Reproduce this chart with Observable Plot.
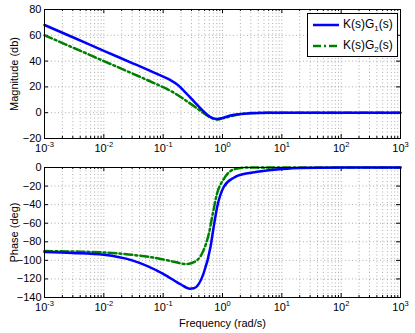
<!DOCTYPE html>
<html><head><meta charset="utf-8">
<script src="https://cdn.jsdelivr.net/npm/d3@7"></script>
<script src="https://cdn.jsdelivr.net/npm/@observablehq/plot@0.6"></script>
<style>
body{margin:0;background:#fff;font-family:"Liberation Sans",Arial,sans-serif;}
#wrap{position:relative;width:415px;height:333px;overflow:hidden;}
#wrap svg{display:block;}
#legend{position:absolute;left:307px;top:13px;width:89px;height:42px;border:1px solid #000;background:#fff;font-size:12px;color:#000;}
#legend .row{position:absolute;left:5px;height:16px;display:flex;align-items:center;}
#legend .row span{margin-left:4px;white-space:nowrap;}
#legend sub{font-size:8px;}
</style>
</head><body>
<div id="wrap">
  <div id="top"></div>
  <div id="bot"></div>
  <div id="legend"></div>
</div>
<script>
// ---- data ----
const seriesNames = ["K(s)G<sub>1</sub>(s)", "K(s)G<sub>2</sub>(s)"];
const seriesColors = ["#0000ff", "#008000"];

const freqMag1 = [0.001, 0.003, 0.01, 0.03, 0.062, 0.1, 0.133, 0.18, 0.223, 0.28, 0.33, 0.4, 0.48, 0.57, 0.67, 0.81, 1.0, 1.36, 2.0, 2.95, 6, 20, 1000];
const mag1     = [68, 58.5, 48, 38.5, 32.2, 28, 25.2, 21.2, 17, 12.3, 8.7, 4.7, 1.0, -2.2, -4.0, -4.8, -4.0, -2.2, -1.0, -0.4, 0, 0, 0];

const freqMag2 = [0.001, 0.003, 0.01, 0.03, 0.07, 0.1, 0.15, 0.2, 0.24, 0.35, 0.52, 0.65, 0.76, 0.9, 1.0, 1.36, 2.0, 3.0, 6, 20, 1000];
const mag2     = [60, 50.5, 40, 30.5, 23, 19.8, 15.6, 12, 9.5, 4.3, -1.4, -4.0, -5.2, -5.0, -4.4, -2.9, -1.2, -0.3, 0, 0, 0];

const freqPh1 = [0.001, 0.003, 0.01, 0.03, 0.1, 0.2, 0.28, 0.33, 0.48, 0.63, 0.71, 0.81, 1.05, 1.55, 2.5, 3.85, 10, 20, 100, 1000];
const phase1  = [-91, -92, -94, -100, -114.5, -126, -130.5, -130, -114, -85, -64, -43, -21, -11, -6.5, -4.6, -1.7, -0.5, 0, 0];

const freqPh2 = [0.001, 0.003, 0.01, 0.03, 0.1, 0.15, 0.25, 0.37, 0.48, 0.59, 0.67, 0.81, 1.05, 1.55, 2.5, 10, 1000];
const phase2  = [-90, -90.5, -91.5, -94, -99, -101.5, -104, -100, -89, -71, -53, -28, -12.5, -2, 0, 0, 0];

const xTicks = [1e-3, 1e-2, 1e-1, 1e0, 1e1, 1e2, 1e3];
const xTickLabels = ["10^-3", "10^-2", "10^-1", "10^0", "10^1", "10^2", "10^3"];
const magTicks = [-20, 0, 20, 40, 60, 80];
const phaseTicks = [-140, -120, -100, -80, -60, -40, -20, 0];
const magLabel = "Magnitude (db)";
const phaseLabel = "Phase (deg)";
const freqLabel = "Frequency (rad/s)";

// ---- helpers ----
const minorX = [];
for (let d = -3; d < 3; d++) for (let k = 2; k <= 9; k++) minorX.push(k * Math.pow(10, d));
const fmtX = d => xTickLabels[xTicks.indexOf(d)];
const gridStyle = {stroke: "#9a9a9a", strokeOpacity: 1, strokeWidth: 0.8, strokeDasharray: "1,2.5"};
const W = 415, ML = 44, MR = 15;

function panel({height, mt, mb, yDomain, yTicks, yLabel, xLabel, lines}) {
  const ph = height - mt - mb, pw = W - ML - MR;
  const marks = [
    Plot.gridX(xTicks.concat(minorX), gridStyle),
    Plot.gridY(yTicks, gridStyle),
    Plot.tickX(xTicks, {x: d => d, insetTop: ph - 4, stroke: "#000"}),
    Plot.tickX(xTicks, {x: d => d, insetBottom: ph - 4, stroke: "#000"}),
    Plot.tickX(minorX, {x: d => d, insetTop: ph - 2, stroke: "#000"}),
    Plot.tickX(minorX, {x: d => d, insetBottom: ph - 2, stroke: "#000"}),
    Plot.tickY(yTicks, {y: d => d, insetRight: pw - 4, stroke: "#000"}),
    Plot.tickY(yTicks, {y: d => d, insetLeft: pw - 4, stroke: "#000"}),
    ...lines,
    Plot.frame({stroke: "#000", strokeWidth: 1}),
    Plot.axisX({ticks: xTicks, tickFormat: fmtX, tickSize: 0, tickPadding: 6, fontSize: 11,
      label: xLabel, labelAnchor: "center", labelOffset: 29, labelArrow: "none"}),
    Plot.axisY({ticks: yTicks, tickSize: 0, tickPadding: 3, fontSize: 11,
      label: yLabel, labelAnchor: "center", labelOffset: 34, labelArrow: "none"})
  ];
  const svg = Plot.plot({
    width: W, height, marginLeft: ML, marginRight: MR, marginTop: mt, marginBottom: mb,
    style: {fontFamily: '"Liberation Sans", Arial, sans-serif', fontSize: "11px", color: "#000", background: "#fff", overflow: "visible"},
    x: {type: "log", domain: [1e-3, 1e3]},
    y: {domain: yDomain},
    marks
  });
  svg.querySelectorAll('g[aria-label="x-axis tick label"] text').forEach(t => {
    const s = t.textContent;
    if (!s.includes("^")) return;
    const [base, exp] = s.split("^");
    t.textContent = "";
    const ns = "http://www.w3.org/2000/svg";
    const a = document.createElementNS(ns, "tspan"); a.textContent = base;
    const b = document.createElementNS(ns, "tspan"); b.textContent = exp;
    b.setAttribute("dy", "-5"); b.setAttribute("font-size", "7.5");
    t.appendChild(a); t.appendChild(b);
  });
  svg.querySelectorAll('g[aria-label="x-axis label"] text, g[aria-label="y-axis label"] text').forEach(t => t.setAttribute("font-size", "11"));
  return svg;
}

function line(xs, ys, i) {
  const opts = {x: xs, y: ys, stroke: seriesColors[i], strokeWidth: 2.5, curve: "monotone-x"};
  if (i === 1) opts.strokeDasharray = "8,3,2,3";
  return Plot.line(ys, opts);
}

document.getElementById("top").appendChild(panel({
  height: 160, mt: 9, mb: 22, yDomain: [-20, 80], yTicks: magTicks, yLabel: magLabel, xLabel: null,
  lines: [line(freqMag2, mag2, 1), line(freqMag1, mag1, 0)]
}));
document.getElementById("bot").appendChild(panel({
  height: 173, mt: 7, mb: 36, yDomain: [-140, 0], yTicks: phaseTicks, yLabel: phaseLabel, xLabel: freqLabel,
  lines: [line(freqPh2, phase2, 1), line(freqPh1, phase1, 0)]
}));

// legend
const leg = document.getElementById("legend");
seriesNames.forEach((name, i) => {
  const row = document.createElement("div");
  row.className = "row";
  row.style.top = (i === 0 ? 3 : 24) + "px";
  const dash = i === 1 ? 'stroke-dasharray="8,3,2,3"' : "";
  row.innerHTML = `<svg width="26" height="6"><line x1="0" y1="3" x2="26" y2="3" stroke="${seriesColors[i]}" stroke-width="2.5" ${dash}/></svg><span>${name}</span>`;
  leg.appendChild(row);
});
</script>
</body></html>
